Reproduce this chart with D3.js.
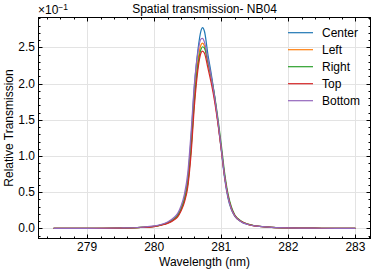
<!DOCTYPE html>
<html>
<head>
<meta charset="utf-8">
<script src="https://cdn.jsdelivr.net/npm/d3@7"></script>
<style>
  body { margin: 0; background: #fff; }
  text { font-family: "Liberation Sans", Arial, sans-serif; }
</style>
</head>
<body>
<svg id="chart"></svg>
<script>
// values in units of 10^-1 (as on the y axis)
const wavelength = [278.5, 279.0, 279.5, 279.8, 280.0, 280.1, 280.2, 280.3, 280.35, 280.4, 280.45, 280.5, 280.55, 280.6, 280.65, 280.7, 280.72, 280.75, 280.8, 280.85, 280.9, 280.95, 281.0, 281.05, 281.1, 281.15, 281.2, 281.3, 281.4, 281.5, 281.7, 282.0, 282.5, 283.0]
const center = [0, 0, 0.005, 0.015, 0.03, 0.05, 0.08, 0.14, 0.19, 0.28, 0.42, 0.68, 1.25, 1.97, 2.45, 2.74, 2.775, 2.72, 2.41, 2.14, 1.83, 1.47, 1.08, 0.69, 0.42, 0.26, 0.17, 0.09, 0.055, 0.035, 0.018, 0.008, 0.003, 0]
const left = [0, 0, 0.005, 0.014, 0.028, 0.047, 0.075, 0.13, 0.175, 0.26, 0.39, 0.62, 1.13, 1.82, 2.3, 2.54, 2.56, 2.52, 2.3, 2.07, 1.8, 1.47, 1.1, 0.72, 0.45, 0.28, 0.18, 0.095, 0.057, 0.036, 0.018, 0.008, 0.003, 0]
const right = [0, 0, 0.005, 0.014, 0.028, 0.047, 0.075, 0.13, 0.175, 0.26, 0.39, 0.61, 1.1, 1.77, 2.24, 2.48, 2.51, 2.49, 2.3, 2.09, 1.84, 1.52, 1.16, 0.77, 0.48, 0.3, 0.19, 0.1, 0.06, 0.037, 0.019, 0.008, 0.003, 0]
const top_ = [0, 0, 0.004, 0.013, 0.026, 0.044, 0.07, 0.12, 0.16, 0.24, 0.36, 0.57, 1.03, 1.7, 2.18, 2.43, 2.45, 2.42, 2.22, 2.01, 1.76, 1.45, 1.09, 0.72, 0.45, 0.28, 0.18, 0.095, 0.057, 0.036, 0.018, 0.008, 0.003, 0]
const bottom = [0, 0, 0.006, 0.017, 0.035, 0.055, 0.09, 0.155, 0.21, 0.31, 0.47, 0.76, 1.33, 2.0, 2.42, 2.62, 2.625, 2.57, 2.34, 2.1, 1.82, 1.49, 1.11, 0.72, 0.44, 0.27, 0.175, 0.09, 0.055, 0.035, 0.018, 0.008, 0.003, 0]

const seriesNames = ['Center', 'Left', 'Right', 'Top', 'Bottom']
const seriesValues = [center, left, right, top_, bottom]
const colors = ['#1f77b4', '#ff7f0e', '#2ca02c', '#d62728', '#9467bd']

const xTicks = [279, 280, 281, 282, 283]
const yTicks = [0, 0.5, 1.0, 1.5, 2.0, 2.5]

let w = 374
let h = 271
const m = { left: 38.5, right: 370.5, top: 17.5, bottom: 238.5 }
const fs = 12

const svg = d3.select('#chart')
    .attr('width', w)
    .attr('height', h)

// matplotlib style 5% margins
function padded(lo, hi) {
    const p = (hi - lo) * 0.05
    return [lo - p, hi + p]
}
const allY = seriesValues.flat()
const x = d3.scaleLinear(padded(d3.min(wavelength), d3.max(wavelength)), [m.left, m.right])
const y = d3.scaleLinear(padded(d3.min(allY), d3.max(allY)), [m.bottom, m.top])

const xMinor = d3.range(278.4, 283.3, 0.2).filter(v => v > x.domain()[0] && v < x.domain()[1])
const yMinor = d3.range(-0.1, 2.95, 0.1).filter(v => v > y.domain()[0] && v < y.domain()[1])

// grid
svg.append('g').selectAll('line')
    .data(xTicks).enter().append('line')
    .attr('x1', d => Math.round(x(d)) + 0.5).attr('x2', d => Math.round(x(d)) + 0.5)
    .attr('y1', m.top).attr('y2', m.bottom)
    .attr('stroke', '#e3e3e3')
svg.append('g').selectAll('line')
    .data(yTicks).enter().append('line')
    .attr('y1', d => Math.round(y(d)) + 0.5).attr('y2', d => Math.round(y(d)) + 0.5)
    .attr('x1', m.left).attr('x2', m.right)
    .attr('stroke', '#e3e3e3')

// lines
const line = d3.line()
    .x((d, i) => x(wavelength[i]))
    .y(d => y(d))
    .curve(d3.curveMonotoneX)

svg.append('g').selectAll('path')
    .data(seriesValues).enter().append('path')
    .attr('d', line)
    .attr('fill', 'none')
    .attr('stroke', (d, i) => colors[i])
    .attr('stroke-width', 1.2)

// ticks, inward on all four sides
function ticksOn(g, vals, len, horizontal) {
    vals.forEach(v => {
        if (horizontal) {
            const px = Math.round(x(v)) + 0.5
            g.append('line').attr('x1', px).attr('x2', px).attr('y1', m.bottom).attr('y2', m.bottom - len)
            g.append('line').attr('x1', px).attr('x2', px).attr('y1', m.top).attr('y2', m.top + len)
        } else {
            const py = Math.round(y(v)) + 0.5
            g.append('line').attr('y1', py).attr('y2', py).attr('x1', m.left).attr('x2', m.left + len)
            g.append('line').attr('y1', py).attr('y2', py).attr('x1', m.right).attr('x2', m.right - len)
        }
    })
}
const tg = svg.append('g').attr('stroke', 'black').attr('stroke-width', 1)
ticksOn(tg, xTicks, 4, true)
ticksOn(tg, yTicks, 4, false)
ticksOn(tg, xMinor, 2, true)
ticksOn(tg, yMinor, 2, false)

svg.append('rect')
    .attr('x', m.left).attr('y', m.top)
    .attr('width', m.right - m.left).attr('height', m.bottom - m.top)
    .attr('fill', 'none').attr('stroke', 'black').attr('stroke-width', 1)

// tick labels
svg.append('g').selectAll('text')
    .data(xTicks).enter().append('text')
    .attr('x', d => x(d)).attr('y', 251)
    .attr('text-anchor', 'middle').attr('font-size', fs)
    .text(d => d)
svg.append('g').selectAll('text')
    .data(yTicks).enter().append('text')
    .attr('x', 35).attr('y', d => y(d) + 4)
    .attr('text-anchor', 'end').attr('font-size', fs)
    .text(d => d.toFixed(1))

// offset text
const off = svg.append('text').attr('x', 38).attr('y', 14).attr('font-size', fs)
off.append('tspan').text('\u00d710')
off.append('tspan').attr('font-size', 8.5).attr('dy', -4.5).text('\u22121')

// labels
svg.append('text')
    .attr('x', (m.left + m.right) / 2).attr('y', 12.5)
    .attr('text-anchor', 'middle').attr('font-size', fs)
    .text('Spatial transmission- NB04')
svg.append('text')
    .attr('x', (m.left + m.right) / 2).attr('y', 265.5)
    .attr('text-anchor', 'middle').attr('font-size', fs)
    .text('Wavelength (nm)')
svg.append('text')
    .attr('transform', `translate(13, ${(m.top + m.bottom) / 2}) rotate(-90)`)
    .attr('text-anchor', 'middle').attr('font-size', fs)
    .text('Relative Transmission')

// legend
const legend = svg.append('g').selectAll('g')
    .data(seriesNames).enter().append('g')
    .attr('transform', (d, i) => `translate(288, ${32.7 + i * 17})`)
legend.append('line')
    .attr('x1', 0).attr('x2', 25)
    .attr('stroke', (d, i) => colors[i]).attr('stroke-width', 1.2)
legend.append('text')
    .attr('x', 34).attr('y', 4.3)
    .attr('font-size', fs)
    .text(d => d)
</script>
</body>
</html>
